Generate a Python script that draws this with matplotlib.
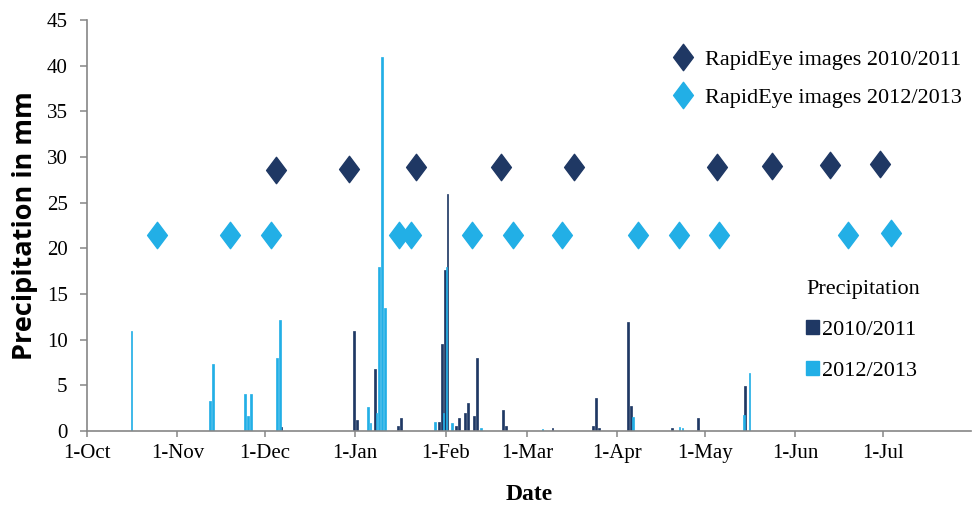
from datetime import date
import numpy as np
import matplotlib.pyplot as plt
import matplotlib.dates as mdates
from matplotlib.path import Path
from matplotlib.lines import Line2D
from matplotlib.patches import Patch

# daily precipitation (mm), dates given as month-day of the Oct-Jul season
rain_1011_days = ['12-07', '01-01', '01-02', '01-08', '01-16', '01-17', '01-30', '01-31',
                  '02-01', '02-02', '02-05', '02-06', '02-08', '02-09', '02-11', '02-12',
                  '02-21', '02-22', '03-10', '03-24', '03-25', '03-26', '04-05', '04-06',
                  '04-20', '04-29', '05-15']
rain_1011_mm = [0.4, 11.0, 1.2, 6.8, 0.6, 1.4, 1.0, 9.5,
                17.6, 26.0, 0.5, 1.4, 2.0, 3.1, 1.6, 8.0,
                2.3, 0.6, 0.3, 0.6, 3.6, 0.3, 11.9, 2.7,
                0.3, 1.4, 4.9]

rain_1213_days = ['10-16', '11-12', '11-13', '11-24', '11-25', '11-26', '12-05', '12-06',
                  '01-05', '01-06', '01-08', '01-09', '01-10', '01-11', '01-28', '01-31',
                  '02-01', '02-03', '02-13', '03-06', '04-06', '04-22', '04-23', '05-14',
                  '05-16']
rain_1213_mm = [11.0, 3.3, 7.3, 4.0, 1.6, 4.1, 8.0, 12.1,
                2.6, 0.9, 2.0, 18.0, 40.9, 13.5, 1.0, 2.0,
                18.0, 0.9, 0.3, 0.2, 1.5, 0.4, 0.3, 1.7,
                6.3]

# RapidEye acquisition dates (plotted as markers)
img_1011_days = ['12-05', '12-30', '01-22', '02-20', '03-17', '05-05', '05-24', '06-13', '06-30']
img_1011_y = [28.6, 28.7, 28.9, 28.9, 28.9, 28.9, 29.0, 29.1, 29.2]
img_1213_days = ['10-25', '11-19', '12-03', '01-16', '01-20', '02-10', '02-24', '03-13',
                 '04-08', '04-22', '05-06', '06-19', '07-04']
img_1213_y = [21.5, 21.5, 21.5, 21.5, 21.5, 21.5, 21.5, 21.5,
              21.5, 21.5, 21.5, 21.5, 21.7]

month_labels = ['1-Oct', '1-Nov', '1-Dec', '1-Jan', '1-Feb', '1-Mar', '1-Apr', '1-May', '1-Jun', '1-Jul']


def season(days):
    # put every season on one common Oct 2010 - Jul 2011 axis
    out = []
    for d in days:
        m, dd = int(d[:2]), int(d[3:])
        out.append(mdates.date2num(date(2010 if m >= 8 else 2011, m, dd)))
    return np.array(out)


dark = '#1f3864'
light = '#22afe6'
axis_grey = '#868686'
serif = 'Liberation Serif'

diamond = Path([(0, 1), (0.75, 0), (0, -1), (-0.75, 0), (0, 1)],
               [Path.MOVETO, Path.LINETO, Path.LINETO, Path.LINETO, Path.CLOSEPOLY])

fig = plt.figure(figsize=(9.72, 5.05), dpi=100)
ax = fig.add_axes([87 / 972, 1 - 431 / 505, 1 - 87 / 972 - 0.001, (431 - 20) / 505])

bw = 0.6
ax.bar(season(rain_1011_days) - 0.3, rain_1011_mm, width=bw, color=dark,
       edgecolor=dark, linewidth=0.5)
ax.bar(season(rain_1213_days) + 0.3, rain_1213_mm, width=bw, color=light,
       edgecolor=light, linewidth=0.5)

ax.plot(season(img_1011_days), img_1011_y, linestyle='none', marker=diamond,
        markersize=19, color=dark)
ax.plot(season(img_1213_days), img_1213_y, linestyle='none', marker=diamond,
        markersize=19, color=light)

start = mdates.date2num(date(2010, 10, 1))
ax.set_xlim(start, start + 303.3)
ax.set_ylim(0, 45)

ticks = [mdates.date2num(date(2010 + (m < 8), m, 1)) for m in [10, 11, 12, 1, 2, 3, 4, 5, 6, 7]]
ax.set_xticks(ticks)
ax.set_xticklabels(month_labels, fontfamily=serif, fontsize=15)
ax.set_yticks(np.arange(0, 46, 5))
ax.set_yticklabels([str(v) for v in range(0, 46, 5)], fontfamily=serif, fontsize=15)

for side in ['top', 'right']:
    ax.spines[side].set_visible(False)
for side in ['left', 'bottom']:
    ax.spines[side].set_color(axis_grey)
    ax.spines[side].set_linewidth(1.2)
ax.tick_params(axis='x', direction='out', length=4.5, width=1.1, color=axis_grey, pad=5)
ax.tick_params(axis='y', direction='out', length=5, width=1.1, color=axis_grey, pad=9)

ax.set_xlabel('Date', fontfamily=serif, fontweight='bold', fontsize=17, labelpad=15)
ax.set_ylabel('Precipitation in mm', fontfamily='Open Sans', fontweight='bold',
              fontsize=19.5, labelpad=6)

img_handles = [Line2D([], [], linestyle='none', marker=diamond, markersize=19, color=dark),
               Line2D([], [], linestyle='none', marker=diamond, markersize=19, color=light)]
leg1 = ax.legend(img_handles, ['RapidEye images 2010/2011', 'RapidEye images 2012/2013'],
                 loc='upper left', bbox_to_anchor=(672 / 972, 1 - 49 / 505),
                 bbox_transform=fig.transFigure, frameon=False,
                 prop={'family': serif, 'size': 16}, handlelength=1.0,
                 handletextpad=0.5, labelspacing=0.8, borderpad=0, borderaxespad=0)
ax.add_artist(leg1)

rain_handles = [Patch(color=dark), Patch(color=light)]
ax.legend(rain_handles, ['2010/2011', '2012/2013'], title='Precipitation',
          alignment='left', loc='upper left', bbox_to_anchor=(806 / 972, 1 - 280 / 505),
          bbox_transform=fig.transFigure, frameon=False,
          prop={'family': serif, 'size': 16},
          title_fontproperties={'family': serif, 'size': 16},
          handlelength=0.6, handleheight=0.6, handletextpad=0.1,
          labelspacing=0.95, borderpad=0, borderaxespad=0)

fig.savefig('out.png', dpi=100)
